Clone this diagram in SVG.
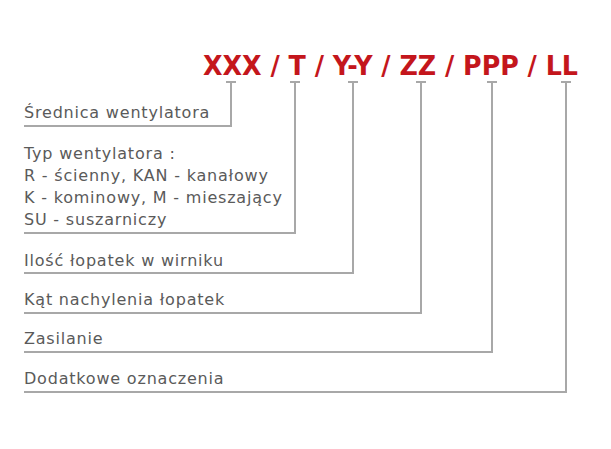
<svg xmlns="http://www.w3.org/2000/svg" width="611" height="449" viewBox="0 0 611 449">
  <style>
    .code { font-family: "DejaVu Sans", "Liberation Sans", sans-serif; font-weight: bold; font-size: 26px; fill: #c4161c; }
    .lbl { font-family: "DejaVu Sans", "Liberation Sans", sans-serif; font-size: 16px; letter-spacing: 0.8px; fill: #5a5a5a; }
    .ln { fill: none; stroke: #a8a8a8; stroke-width: 2; }
  </style>
  <rect width="611" height="449" fill="#ffffff"/>
  <g id="code">
    <text class="code" x="203" y="75" textLength="375" lengthAdjust="spacingAndGlyphs">XXX / T / Y-Y / ZZ / PPP / LL</text>
  </g>
  <g id="connectors">
    <path class="ln" d="M226 82 H236 M231 82 V126 H24"/>
    <path class="ln" d="M290 82 H300 M295 82 V233 H24"/>
    <path class="ln" d="M348 82 H358 M353 82 V273 H24"/>
    <path class="ln" d="M416 82 H426 M421 82 V313 H24"/>
    <path class="ln" d="M487 82 H497 M492 82 V352 H24"/>
    <path class="ln" d="M561 82 H571 M566 82 V392 H24"/>
  </g>
  <g id="srednica">
    <text class="lbl" x="24" y="118">Średnica wentylatora</text>
  </g>
  <g id="typ">
    <text class="lbl" x="24" y="159">Typ wentylatora :</text>
    <text class="lbl" x="24" y="181">R - ścienny, KAN - kanałowy</text>
    <text class="lbl" x="24" y="203">K - kominowy, M - mieszający</text>
    <text class="lbl" x="24" y="225">SU - suszarniczy</text>
  </g>
  <g id="ilosc">
    <text class="lbl" x="24" y="266">Ilość łopatek w wirniku</text>
  </g>
  <g id="kat">
    <text class="lbl" x="24" y="305">Kąt nachylenia łopatek</text>
  </g>
  <g id="zasilanie">
    <text class="lbl" x="24" y="344">Zasilanie</text>
  </g>
  <g id="dodatkowe">
    <text class="lbl" x="24" y="384">Dodatkowe oznaczenia</text>
  </g>
</svg>
